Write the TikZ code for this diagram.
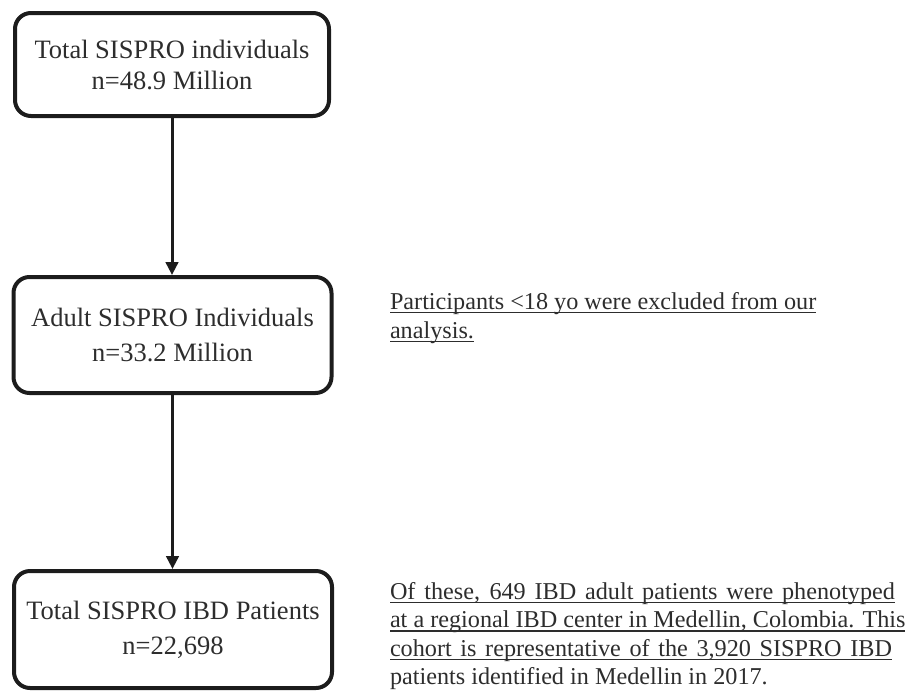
\documentclass[tikz,border=0pt]{standalone}
\usepackage{fontspec}
\setmainfont{Liberation Serif}
\usetikzlibrary{arrows.meta}
\definecolor{ink}{RGB}{28,28,28}
\definecolor{txt}{RGB}{45,45,45}
\begin{document}
\begin{tikzpicture}[x=1pt,y=-1pt,
  box/.style={draw=ink, line width=4pt, rounded corners=16pt, align=center, text=txt, inner sep=0pt},
  flow/.style={draw=ink, line width=3pt, -{Triangle[width=12.5pt,length=13pt]}},
  note/.style={anchor=base west, inner sep=0pt, outer sep=0pt, text=txt, font=\fontsize{24.2}{29}\selectfont},
  uline/.style={draw=txt, line width=1.8pt}]
\useasboundingbox (0,0) rectangle (905,691);

\node[box, minimum width=314pt, minimum height=103pt, font=\fontsize{26.5}{31}\selectfont] (b1) at (172,64.5)
  {\raisebox{-2pt}{Total SISPRO individuals}\\\raisebox{-2pt}{n=48.9 Million}};
\node[box, minimum width=318pt, minimum height=116pt, font=\fontsize{26.5}{35}\selectfont] (b2) at (172.5,335)
  {Adult SISPRO Individuals\\n=33.2 Million};
\node[box, minimum width=318pt, minimum height=117pt, font=\fontsize{26.5}{35}\selectfont] (b3) at (173,629.5)
  {Total SISPRO IBD Patients\\n=22,698};

\draw[flow] (b1.south) -- (b1.south |- b2.north);
\draw[flow] (b2.south) -- (b2.south |- b3.north);

\node[note] (r1a) at (390,309) {Participants <18 yo were excluded from our};
\node[note] (r1b) at (390,338) {analysis.};
\node[note] (r2a) at (390,599) {\makebox[505pt][s]{Of these, 649 IBD adult patients were phenotyped}};
\node[note] (r2b) at (390,627.5) {at a regional IBD center in Medellin, Colombia. This};
\node[note] (r2c) at (390,656) {\makebox[502pt][s]{cohort is representative of the 3,920 SISPRO IBD}};
\node[note] (r2d) at (390,684.5) {patients identified in Medellin in 2017.};

\foreach \n in {r1a,r1b,r2a,r2b,r2c}
  \draw[uline] ([yshift=-3.5pt]\n.base west) -- ([yshift=-3.5pt]\n.base east);
\end{tikzpicture}
\end{document}
